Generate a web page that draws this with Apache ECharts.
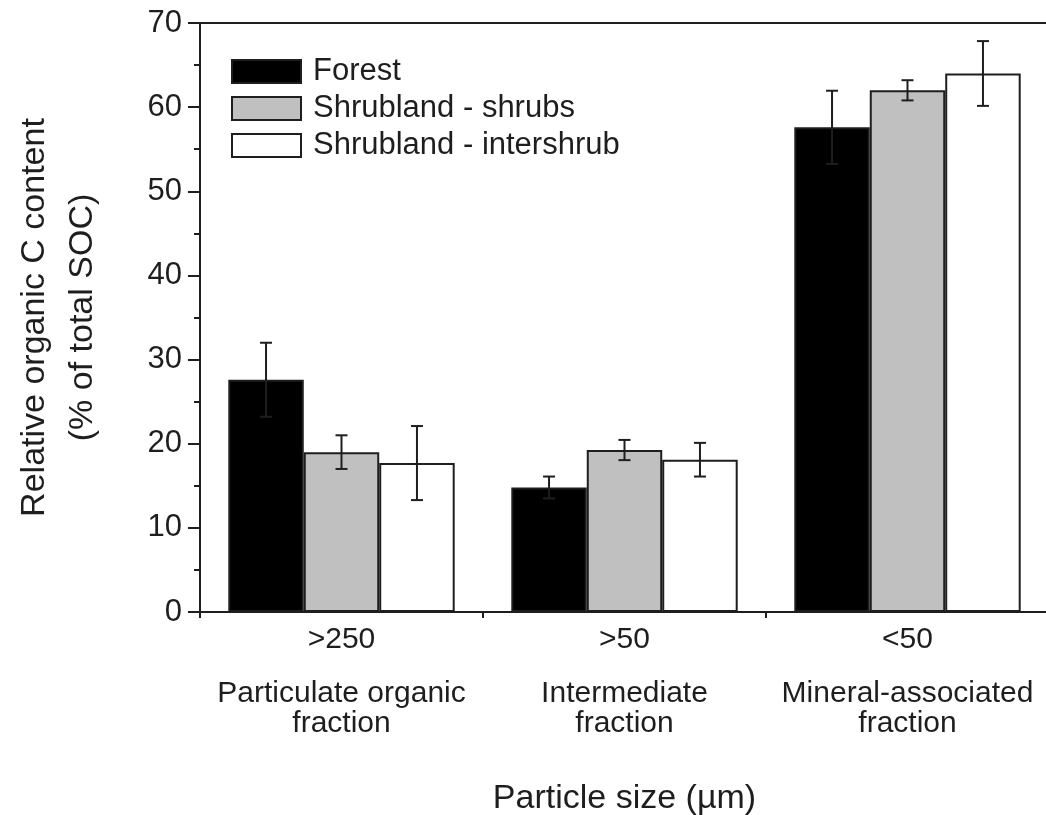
<!DOCTYPE html>
<html>
<head>
<meta charset="utf-8">
<script src="https://cdn.jsdelivr.net/npm/echarts@6/dist/echarts.min.js"></script>
<style>
html,body{margin:0;padding:0;background:#fff;overflow:hidden;}
#chart{width:1046px;height:815px;}
</style>
</head>
<body>
<div id="chart"></div>
<script>
// ---- data ----
var sizeLabels = ['>250', '>50', '<50'];
var fractionLines = [
  ['Particulate organic', 'fraction'],
  ['Intermediate', 'fraction'],
  ['Mineral-associated', 'fraction']
];
var seriesNames = ['Forest', 'Shrubland - shrubs', 'Shrubland - intershrub'];
var forest = [27.6, 14.8, 57.6];
var shrubs = [19.0, 19.25, 62.0];
var intershrub = [17.7, 18.1, 64.0];
var forestErr = [4.4, 1.3, 4.35];
var shrubsErr = [2.0, 1.2, 1.2];
var intershrubErr = [4.4, 2.0, 3.85];
var yTicks = [0, 10, 20, 30, 40, 50, 60, 70];

var values = [forest, shrubs, intershrub];
var errs = [forestErr, shrubsErr, intershrubErr];
var fills = ['#000000', '#c0c0c0', '#ffffff'];
var ink = '#1e1e1e';
var font = "'Liberation Sans', Arial, sans-serif";

var chart = echarts.init(document.getElementById('chart'), null, {renderer: 'canvas'});

var series = [];
values.forEach(function (vals, s) {
  series.push({
    name: seriesNames[s],
    type: 'bar',
    data: vals,
    barGap: '0%',
    barCategoryGap: '20%',
    itemStyle: {color: fills[s], borderColor: ink, borderWidth: 2},
    emphasis: {disabled: true},
    z: 2
  });
});

values.forEach(function (vals, s) {
  var data = vals.map(function (v, i) {
    return [i, v - errs[s][i], v + errs[s][i]];
  });
  series.push({
    type: 'custom',
    name: seriesNames[s] + ' error',
    data: data,
    z: 5,
    silent: true,
    encode: {x: 0, y: [1, 2]},
    renderItem: function (params, api) {
      var ci = api.value(0);
      var lo = api.coord([ci, api.value(1)]);
      var hi = api.coord([ci, api.value(2)]);
      var band = api.size([1, 0])[0];
      var bw = band * 0.8 / 3;
      var x = lo[0] - band * 0.4 + bw * (s + 0.5);
      var cap = 6;
      var st = {stroke: ink, lineWidth: 2};
      return {
        type: 'group',
        children: [
          {type: 'line', shape: {x1: x, y1: lo[1], x2: x, y2: hi[1]}, style: st},
          {type: 'line', shape: {x1: x - cap, y1: hi[1], x2: x + cap, y2: hi[1]}, style: st},
          {type: 'line', shape: {x1: x - cap, y1: lo[1], x2: x + cap, y2: lo[1]}, style: st}
        ]
      };
    }
  });
});

var option = {
  animation: false,
  backgroundColor: '#ffffff',
  textStyle: {fontFamily: font, color: ink},
  grid: {
    left: 200, top: 23, width: 849, height: 589,
    containLabel: false, outerBoundsMode: 'none',
    show: true, borderColor: ink, borderWidth: 2, backgroundColor: 'transparent'
  },
  legend: {
    left: 231, top: 56, orient: 'vertical', padding: 0,
    itemWidth: 69, itemHeight: 23, itemGap: 6,
    icon: 'rect',
    data: seriesNames.map(function (n, s) {
      return {name: n, itemStyle: {color: fills[s], borderColor: ink, borderWidth: 2}};
    }),
    textStyle: {fontFamily: font, fontSize: 31, color: ink, padding: [0, 0, 0, 7], lineHeight: 23},
    selectedMode: false
  },
  xAxis: {
    type: 'category',
    data: sizeLabels,
    name: 'Particle size (\u00b5m)',
    nameLocation: 'middle',
    nameGap: 170,
    nameTextStyle: {fontFamily: font, fontSize: 34, color: ink, lineHeight: 34},
    axisLine: {lineStyle: {color: ink, width: 2}},
    axisTick: {show: true, length: 6, lineStyle: {color: ink, width: 2}},
    axisLabel: {
      margin: 13,
      interval: 0,
      formatter: function (v, i) {
        var l = fractionLines[i];
        return '{s|' + v + '}\n{g| }\n{f|' + l[0] + '}\n{f|' + l[1] + '}';
      },
      rich: {
        s: {fontFamily: font, fontSize: 30, lineHeight: 30, color: ink},
        g: {fontSize: 10, lineHeight: 24},
        f: {fontFamily: font, fontSize: 30, lineHeight: 30, color: ink}
      }
    }
  },
  yAxis: {
    type: 'value',
    min: yTicks[0], max: yTicks[yTicks.length - 1], interval: 10,
    name: 'Relative organic C content\n(% of total SOC)',
    nameLocation: 'middle',
    nameGap: 93,
    nameTextStyle: {fontFamily: font, fontSize: 34, color: ink, lineHeight: 48},
    axisLine: {show: true, lineStyle: {color: ink, width: 2}},
    axisTick: {show: true, length: 12, lineStyle: {color: ink, width: 2}},
    minorTick: {show: true, splitNumber: 2, length: 6, lineStyle: {color: ink, width: 2}},
    splitLine: {show: false},
    axisLabel: {margin: 18, fontFamily: font, fontSize: 31, color: ink}
  },
  series: series
};
chart.setOption(option);
</script>
</body>
</html>
